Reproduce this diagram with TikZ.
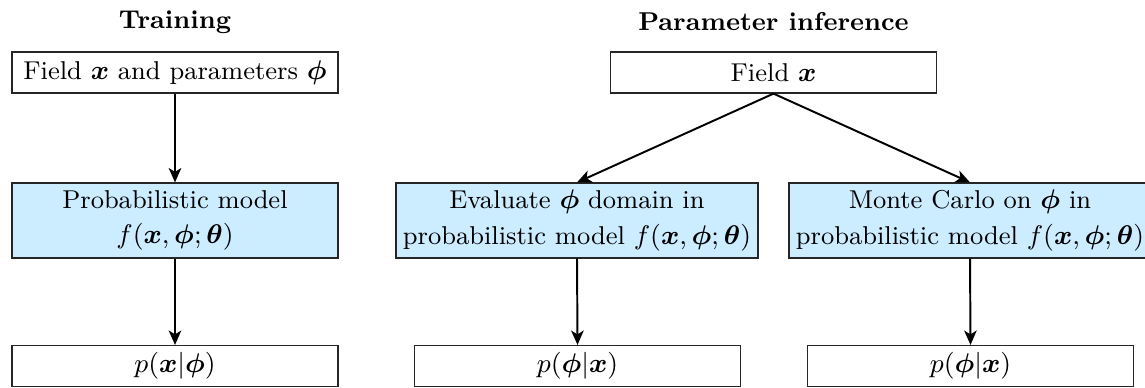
\documentclass[tikz,border=0pt]{standalone}
\usepackage{amsmath,bm}
\usetikzlibrary{arrows.meta}
\definecolor{modelblue}{RGB}{204,236,255}
\newcommand{\diagfont}{\fontsize{8.6pt}{11.8pt}\selectfont}
\tikzset{
  box/.style={draw=black!85, line width=0.4pt, inner sep=0pt, align=center,
    font=\diagfont, minimum width=108.67pt, minimum height=13.67pt},
  modelbox/.style={box, fill=modelblue, minimum height=25pt},
  widebox/.style={modelbox, minimum width=120.67pt},
  heading/.style={inner sep=0pt, font=\diagfont\bfseries},
  flow/.style={line width=0.65pt, -{Stealth[length=4.8pt,width=4.2pt,inset=1.3pt]}}
}
\begin{document}
\begin{tikzpicture}[x=0.33333pt, y=-0.33333pt]
\useasboundingbox (0,0) rectangle (1145,387);
\clip (0,0) rectangle (1145,387);

% Training column
\node[heading] (trainhead) at (175,22) {Training};
\node[box] (tin) at (175,72.5) {Field $\bm{x}$ and parameters $\bm{\phi}$};
\node[modelbox] (tmodel) at (175,220.5) {Probabilistic model\\ $f(\bm{x},\bm{\phi};\bm{\theta})$};
\node[box] (tout) at (175,366) {$p(\bm{x}|\bm{\phi})$};

% Parameter inference column
\node[heading] (infhead) at (773.5,22) {Parameter inference};
\node[box] (iin) at (773.5,72.5) {Field $\bm{x}$};
\node[widebox] (ieval) at (577,220.5) {Evaluate $\bm{\phi}$ domain in\\ probabilistic model $f(\bm{x},\bm{\phi};\bm{\theta})$};
\node[widebox] (imc) at (970,220.5) {Monte Carlo on $\bm{\phi}$ in\\ probabilistic model $f(\bm{x},\bm{\phi};\bm{\theta})$};
\node[box] (ievalout) at (577.5,366) {$p(\bm{\phi}|\bm{x})$};
\node[box] (imcout) at (970.5,366) {$p(\bm{\phi}|\bm{x})$};

% Connectors
\draw[flow] (tin.south) -- (tmodel.north);
\draw[flow] (tmodel.south) -- (tout.north);
\draw[flow] (iin.south) -- (ieval.north);
\draw[flow] (iin.south) -- (imc.north);
\draw[flow] (ieval.south) -- (ievalout.north);
\draw[flow] (imc.south) -- (imcout.north);
\end{tikzpicture}
\end{document}
